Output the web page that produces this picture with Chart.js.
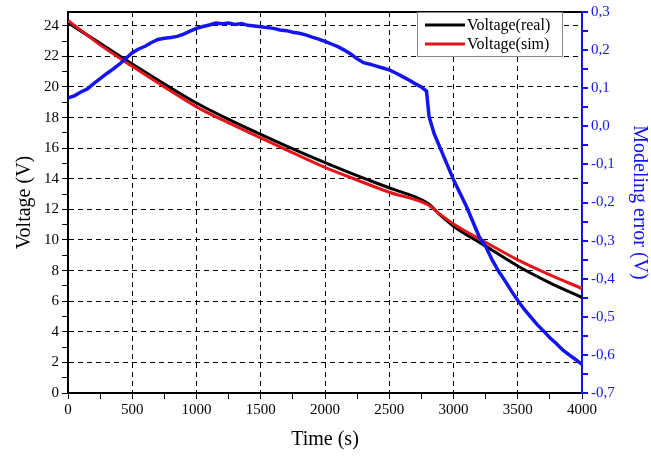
<!DOCTYPE html>
<html>
<head>
<meta charset="utf-8">
<script src="https://cdn.jsdelivr.net/npm/chart.js@4/dist/chart.umd.min.js"></script>
<style>
  body { margin: 0; background: #fff; }
  #wrap { width: 651px; height: 459px; }
</style>
</head>
<body>
<div id="wrap"><canvas id="voltageChart"></canvas></div>
<script>
// voltage curves (s, V)
const voltTime = [0, 250, 500, 750, 1000, 1250, 1500, 1750, 2000, 2250, 2500, 2800, 2900, 3000, 3250, 3500, 3750, 4000];
const voltReal = [24.2, 22.85, 21.5, 20.2, 18.95, 17.88, 16.9, 15.95, 15.05, 14.2, 13.4, 12.4, 11.6, 10.9, 9.6, 8.3, 7.2, 6.24];
const voltSim  = [24.35, 22.75, 21.35, 20.0, 18.7, 17.65, 16.68, 15.7, 14.75, 13.92, 13.12, 12.3, 11.65, 11.05, 9.85, 8.7, 7.72, 6.83];

// modeling error (s, V) on the right axis
const errTime = [0, 50, 100, 150, 200, 250, 300, 350, 400, 450, 500, 550, 600, 650, 700, 750, 800, 850, 900, 950,
  1000, 1050, 1100, 1150, 1200, 1250, 1300, 1350, 1400, 1450, 1500, 1550, 1600, 1650, 1700, 1750, 1800, 1850, 1900, 1950,
  2000, 2050, 2100, 2150, 2200, 2250, 2300, 2350, 2400, 2450, 2500, 2550, 2600, 2650, 2700, 2750, 2790, 2810, 2850, 2900,
  2950, 3000, 3050, 3100, 3150, 3200, 3250, 3300, 3350, 3400, 3450, 3500, 3550, 3600, 3650, 3700, 3750, 3800, 3850, 3900, 3950, 4000];
const errValue = [0.075, 0.080, 0.090, 0.098, 0.112, 0.125, 0.138, 0.150, 0.163, 0.178, 0.193, 0.203, 0.210, 0.220, 0.228, 0.231, 0.233, 0.236, 0.242, 0.250,
  0.257, 0.262, 0.266, 0.271, 0.269, 0.271, 0.267, 0.270, 0.265, 0.263, 0.261, 0.259, 0.257, 0.253, 0.251, 0.247, 0.244, 0.240, 0.234, 0.229,
  0.223, 0.216, 0.209, 0.200, 0.190, 0.177, 0.167, 0.163, 0.158, 0.153, 0.148, 0.140, 0.131, 0.122, 0.112, 0.103, 0.092, 0.025, -0.020, -0.060,
  -0.100, -0.140, -0.175, -0.210, -0.250, -0.290, -0.315, -0.350, -0.380, -0.405, -0.432, -0.457, -0.480, -0.500, -0.520, -0.537, -0.555, -0.570, -0.587, -0.600, -0.612, -0.625];

const legendItems = ["Voltage(real)", "Voltage(sim)"];
const legendColors = ["#000000", "#e5141b"];
const errColor = "#1414f0";
const serif = "'Liberation Serif', 'DejaVu Serif', serif";

function pts(xs, ys) {
  return xs.map((x, i) => ({ x: x, y: ys[i] }));
}

const framePlugin = {
  id: "frame",
  afterDatasetsDraw(chart) {
    const ctx = chart.ctx;
    const a = chart.chartArea;
    ctx.save();
    ctx.strokeStyle = "#000";
    ctx.lineWidth = 2;
    ctx.beginPath();
    ctx.moveTo(a.left, a.top);
    ctx.lineTo(a.right, a.top);
    ctx.stroke();

    // legend box, top right inside the plot
    const bx = 417, by = 12, bw = 145, bh = 44;
    ctx.fillStyle = "#fff";
    ctx.fillRect(bx, by, bw, bh);
    ctx.strokeStyle = "#888";
    ctx.lineWidth = 1;
    ctx.strokeRect(bx + 0.5, by + 0.5, bw, bh);
    ctx.font = "16px " + serif;
    ctx.textBaseline = "middle";
    legendItems.forEach((label, i) => {
      const y = by + 13 + i * 19;
      ctx.strokeStyle = legendColors[i];
      ctx.lineWidth = 3;
      ctx.beginPath();
      ctx.moveTo(bx + 8, y);
      ctx.lineTo(bx + 48, y);
      ctx.stroke();
      ctx.fillStyle = "#000";
      ctx.fillText(label, bx + 50, y + 1);
    });
    ctx.restore();
  }
};

const ctx = document.getElementById("voltageChart").getContext("2d");

new Chart(ctx, {
  type: "line",
  data: {
    datasets: [
      {
        label: "Modeling error",
        data: pts(errTime, errValue),
        yAxisID: "y2",
        borderColor: errColor,
        borderWidth: 3.5,
        pointRadius: 0,
        tension: 0
      },
      {
        label: legendItems[1],
        data: pts(voltTime, voltSim),
        yAxisID: "y",
        borderColor: legendColors[1],
        borderWidth: 3,
        pointRadius: 0,
        cubicInterpolationMode: "monotone"
      },
      {
        label: legendItems[0],
        data: pts(voltTime, voltReal),
        yAxisID: "y",
        borderColor: legendColors[0],
        borderWidth: 3,
        pointRadius: 0,
        cubicInterpolationMode: "monotone"
      }
    ]
  },
  options: {
    responsive: true,
    maintainAspectRatio: false,
    animation: false,
    layout: { padding: { top: 10, left: 0, right: 0, bottom: 0 } },
    plugins: {
      legend: { display: false },
      tooltip: { enabled: false }
    },
    scales: {
      x: {
        type: "linear",
        min: 0,
        max: 4000,
        afterFit: (s) => { s.height = 66; },
        ticks: {
          stepSize: 250,
          autoSkip: false,
          maxRotation: 0,
          color: "#000",
          font: { family: serif, size: 15 },
          padding: 2,
          callback: (v) => (v % 500 === 0 ? v : "")
        },
        grid: {
          color: (c) => (c.tick && c.tick.value % 500 === 0 && c.tick.value > 0 && c.tick.value < 4000 ? "#000" : "rgba(0,0,0,0)"),
          tickColor: "#000",
          tickLength: 6,
          lineWidth: 1
        },
        border: { color: "#000", width: 2, dash: [5, 4] },
        title: {
          display: true,
          text: "Time (s)",
          color: "#000",
          font: { family: serif, size: 20 },
          padding: { top: 0, bottom: 7 }
        }
      },
      y: {
        type: "linear",
        position: "left",
        min: 0,
        max: 24.9,
        afterFit: (s) => { s.width = 68; },
        ticks: {
          stepSize: 1,
          includeBounds: false,
          autoSkip: false,
          color: "#000",
          font: { family: serif, size: 15 },
          padding: 3,
          callback: (v) => (v % 2 === 0 ? v : "")
        },
        grid: {
          color: (c) => (c.tick && c.tick.value % 2 === 0 && c.tick.value > 0 ? "#000" : "rgba(0,0,0,0)"),
          tickColor: "#000",
          tickLength: 6,
          lineWidth: 1
        },
        border: { color: "#000", width: 2, dash: [5, 4] },
        title: {
          display: true,
          text: "Voltage (V)",
          color: "#000",
          font: { family: serif, size: 20 },
          padding: { top: 13, bottom: 0 }
        }
      },
      y2: {
        type: "linear",
        position: "right",
        min: -0.7,
        max: 0.3,
        afterFit: (s) => { s.width = 69; },
        ticks: {
          stepSize: 0.05,
          autoSkip: false,
          color: errColor,
          font: { family: serif, size: 15 },
          padding: 3,
          callback: (v) => {
            const r = Math.round(v * 100);
            if (r % 10 !== 0) return "";
            return (Math.round(v * 10) / 10).toFixed(1).replace(".", ",");
          }
        },
        grid: {
          drawOnChartArea: false,
          color: errColor,
          tickColor: errColor,
          tickLength: 6,
          lineWidth: 2
        },
        border: { color: errColor, width: 2 },
        title: {
          display: true,
          text: "Modeling error (V)",
          color: errColor,
          font: { family: serif, size: 20 },
          padding: { top: 0, bottom: 0 }
        }
      }
    }
  },
  plugins: [framePlugin]
});
</script>
</body>
</html>
